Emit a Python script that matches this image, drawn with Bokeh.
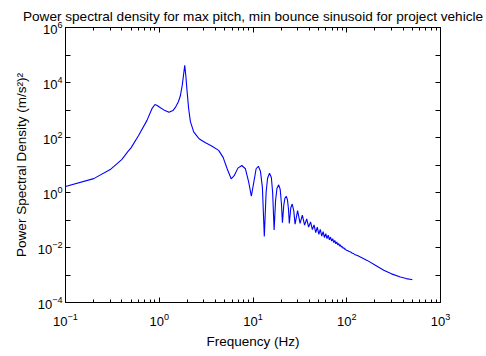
from bokeh.plotting import figure
from bokeh.models import LogAxis, FixedTicker, ColumnDataSource
from bokeh.embed import file_html
from bokeh.resources import INLINE

# ---- data ----
freq_hz = [0.1, 0.2, 0.3, 0.4, 0.46, 0.5, 0.6, 0.74, 0.84, 0.9, 0.95, 1.03, 1.15, 1.27,
           1.4, 1.5, 1.6, 1.68, 1.76, 1.82, 1.87, 1.92, 1.97, 2.06, 2.15, 2.33, 2.54,
           2.66, 2.9, 3.12, 3.66, 4.3, 4.8, 5.3, 5.85, 6.3, 6.9, 7.6, 8.3, 9.0, 9.6,
           10.2, 10.8, 11.4, 12.0, 12.6, 13.2, 13.8, 14.3, 15.0, 15.7, 16.2, 16.8,
           17.4, 18.0, 18.8, 19.5, 20.1, 20.6, 21.3, 21.9, 22.6, 23.3, 23.9, 24.4,
           25.3, 26.2, 27.2, 28.1, 29.9, 31.8, 33.6, 35.5, 37.4, 39.2, 41.1, 43.0,
           44.8, 46.7, 48.5, 50.4, 52.2, 54.1, 56.0, 57.8, 59.7, 61.5, 63.4, 65.3,
           67.1, 69.0, 70.8, 72.7, 74.6, 76.4, 78.3, 80.1, 82.0, 83.9, 85.7, 87.6,
           89.4, 91.3, 93.2, 95.0, 96.9, 98.7, 102.4, 106.1, 109.8, 113.5, 117.2,
           121.0, 130, 165, 200, 248, 300, 374, 430, 490, 500]
psd = [1.65, 3.2, 6.8, 16, 30, 42, 115, 420, 1150, 1580, 1450, 1200, 950, 820,
       950, 1300, 2000, 3300, 8000, 20000, 42000, 18000, 6000, 1100, 380, 160, 110,
       90, 75, 64, 48, 34, 19, 7.3, 3.15, 4.1, 7.7, 9.6, 7.3, 2.4, 0.73,
       2.4, 7.3, 9.0, 6.0, 1.5, 0.025, 1.0, 3.3, 5.0, 3.5, 1.0, 0.043,
       0.5, 1.4, 1.9, 1.3, 0.4, 0.08, 0.35, 0.62, 0.73, 0.55, 0.25, 0.075,
       0.28, 0.38, 0.22, 0.07, 0.22, 0.075, 0.15, 0.065, 0.11, 0.055, 0.085, 0.045,
       0.066, 0.035, 0.055, 0.03, 0.046, 0.026, 0.038, 0.023, 0.032, 0.021, 0.028, 0.019,
       0.024, 0.017, 0.021, 0.0152, 0.018, 0.0137, 0.0158, 0.0124, 0.014, 0.0113, 0.0124, 0.0103,
       0.011, 0.0094, 0.0099, 0.0086, 0.0089, 0.0079, 0.0078, 0.0071, 0.0069, 0.0063, 0.0061,
       0.0056, 0.0051, 0.0034, 0.0023, 0.0015, 0.0011, 0.00085, 0.00074, 0.00069, 0.00068]

x_major_ticks = [0.1, 1, 10, 100, 1000]
x_minor_ticks = [m * d for d in [0.1, 1, 10, 100] for m in range(2, 10)]
y_major_ticks = [1e-4, 1e-2, 1e0, 1e2, 1e4, 1e6]
y_minor_ticks = [1e-3, 1e-1, 1e1, 1e3, 1e5]

title_text = "Power spectral density for max pitch, min bounce sinusoid for project vehicle"
x_label = "Frequency (Hz)"
y_label = "Power Spectral Density (m/s\u00b2)\u00b2"

FONT = "Liberation Sans"

p = figure(width=486, height=356, x_axis_type="log", y_axis_type="log",
           x_range=(0.1, 1000), y_range=(1e-4, 1e6),
           output_backend="svg", toolbar_location=None,
           min_border_left=65, min_border_right=46, min_border_top=27, min_border_bottom=54,
           title=title_text)

p.title.text_font = FONT
p.title.text_font_size = "13.6px"
p.title.text_font_style = "normal"
p.title.text_color = "black"
p.title.align = "center"
p.title.standoff = 8
p.title.offset = 0

p.xgrid.visible = False
p.ygrid.visible = False
p.outline_line_color = "black"
p.outline_line_alpha = 1.0

src = ColumnDataSource(dict(f=freq_hz, s=psd))
p.line("f", "s", source=src, line_color="#0000ff", line_width=1.1)

xt = FixedTicker(ticks=x_major_ticks, minor_ticks=x_minor_ticks)
yt = FixedTicker(ticks=y_major_ticks, minor_ticks=y_minor_ticks)


def style(ax, ticker, labels=True):
    ax.ticker = ticker
    ax.axis_line_color = "black"
    ax.major_tick_line_color = "black"
    ax.minor_tick_line_color = "black"
    ax.major_tick_in = 5
    ax.major_tick_out = 0
    ax.minor_tick_in = 3
    ax.minor_tick_out = 0
    ax.major_label_text_font = FONT
    if labels:
        ax.major_label_text_color = "black"
        ax.major_label_text_font_size = "13px"
        ax.major_label_standoff = 7
    else:
        ax.major_label_text_color = None
        ax.major_label_text_font_size = "1px"
        ax.major_label_standoff = 0


xa = p.xaxis[0]
style(xa, xt)
xa.major_label_standoff = 10
xa.axis_label = x_label
xa.axis_label_text_font = FONT
xa.axis_label_text_font_size = "13.5px"
xa.axis_label_text_font_style = "normal"
xa.axis_label_text_color = "black"
xa.axis_label_standoff = 5

ya = p.yaxis[0]
style(ya, yt)
ya.minor_tick_in = 5
ya.major_label_standoff = 3
ya.axis_label = y_label
ya.axis_label_text_font = FONT
ya.axis_label_text_font_size = "13.5px"
ya.axis_label_text_font_style = "normal"
ya.axis_label_text_color = "black"
ya.axis_label_standoff = 6

top = LogAxis()
style(top, xt, labels=False)
p.add_layout(top, "above")

right = LogAxis()
style(right, yt, labels=False)
right.minor_tick_in = 5
p.add_layout(right, "right")

open("out.html", "w").write(file_html(p, INLINE))
